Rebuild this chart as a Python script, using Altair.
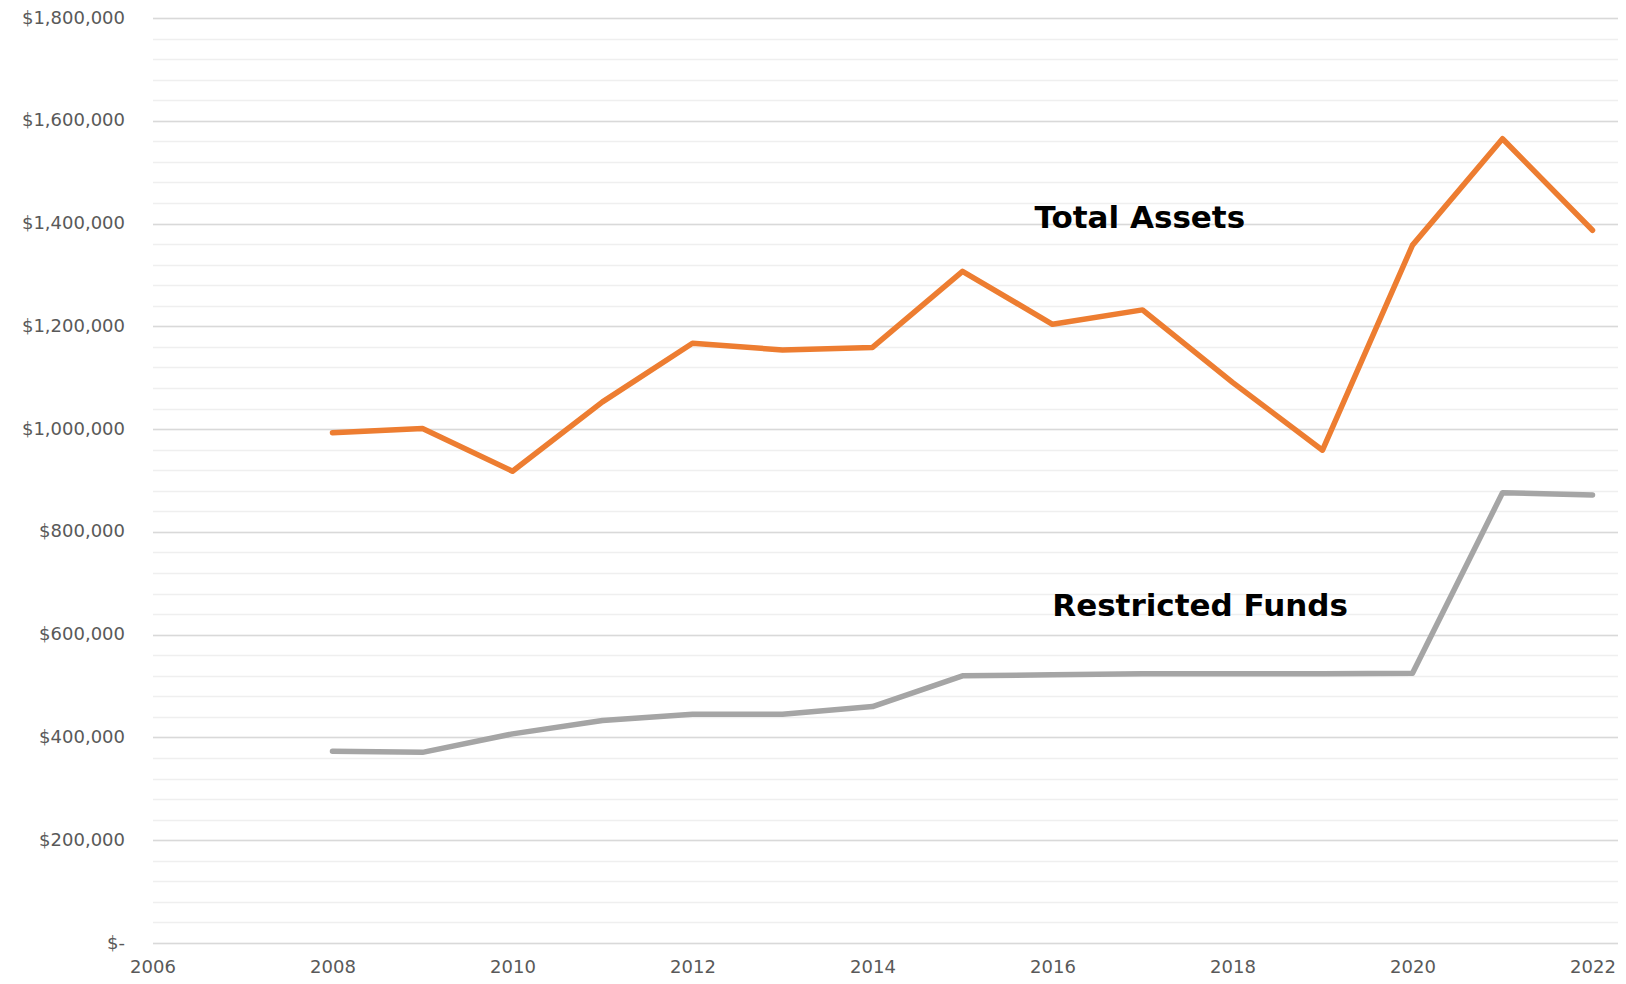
import altair as alt
import pandas as pd

years = list(range(2008, 2023))
total_assets = [993000, 1001000, 918000, 1053000, 1167000, 1154000, 1159000, 1307000,
                1204000, 1232000, 1091000, 959000, 1358000, 1565000, 1387000]
restricted_funds = [373000, 371000, 407000, 433000, 445000, 445000, 460000, 520000,
                    522000, 524000, 524000, 524000, 525000, 876000, 872000]

series_names = ["Total Assets", "Restricted Funds"]
series_colors = ["#ED7D31", "#A5A5A5"]

label_text = ["Total Assets", "Restricted Funds"]
label_year = [2016.97, 2017.64]
label_value = [1391500, 636500]

y_major = list(range(0, 1800001, 200000))
y_minor = list(range(0, 1800001, 40000))
x_ticks = list(range(2006, 2023, 2))

rows = []
for name, vals in zip(series_names, [total_assets, restricted_funds]):
    for yr, v in zip(years, vals):
        rows.append({"year": yr, "value": v, "series": name})
df = pd.DataFrame(rows)
labels_df = pd.DataFrame({"text": label_text, "year": label_year, "value": label_value})

FONT = "DejaVu Sans"
xscale = alt.Scale(domain=[2006, 2022.2778], nice=False, zero=False)
yscale = alt.Scale(domain=[0, 1800000], nice=False)

x_axis = alt.Axis(
    values=x_ticks, format="d", grid=False, ticks=False, domain=False, title=None,
    labelFont=FONT, labelFontSize=18, labelColor="#595959", labelPadding=15,
    labelFlush=False, labelOverlap=False, labelBound=False)

minor = alt.Chart(df).mark_line(opacity=0).encode(
    x=alt.X("year:Q", scale=xscale, axis=x_axis),
    y=alt.Y("value:Q", scale=yscale, axis=alt.Axis(
        values=y_minor, grid=True, gridColor="#EFEFEF", gridWidth=1.3,
        labels=False, ticks=False, domain=False, title=None, orient="left")),
)

lines = alt.Chart(df).mark_line(strokeWidth=5.5, strokeCap="round", strokeJoin="round").encode(
    x=alt.X("year:Q", scale=xscale, axis=x_axis),
    y=alt.Y("value:Q", scale=yscale, axis=alt.Axis(
        values=y_major, grid=True, gridColor="#D9D9D9", gridWidth=1.5,
        ticks=False, domain=False, title=None, orient="left",
        labelFont=FONT, labelFontSize=18, labelColor="#595959", labelPadding=28,
        labelExpr="datum.value == 0 ? '$-' : '$' + format(datum.value, ',')")),
    color=alt.Color("series:N", scale=alt.Scale(domain=series_names, range=series_colors), legend=None),
    detail="series:N",
)

texts = alt.Chart(labels_df).mark_text(
    font=FONT, fontSize=31, fontWeight="bold", color="#000000",
    align="center", baseline="alphabetic"
).encode(
    x=alt.X("year:Q", scale=xscale, axis=x_axis),
    y=alt.Y("value:Q", scale=yscale, axis=None),
    text="text:N",
)

chart = alt.layer(minor, lines, texts).resolve_axis(y="independent").properties(
    width=1465, height=925,
    autosize=alt.AutoSizeParams(type="none"),
    padding={"left": 144.5, "top": 10, "right": 0, "bottom": 33},
    background="white",
).configure_view(strokeWidth=0, stroke="transparent")

chart.save("out.html", embed_options={"renderer": "svg", "actions": False})
